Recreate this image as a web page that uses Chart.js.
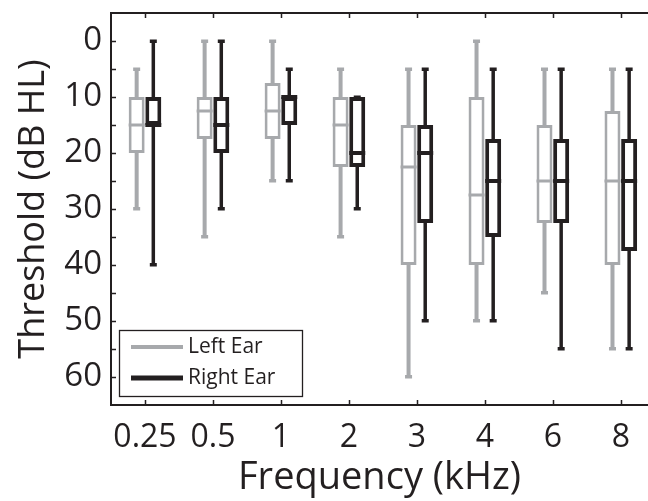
<!DOCTYPE html>
<html>
<head>
<meta charset="utf-8">
<script src="https://cdn.jsdelivr.net/npm/chart.js@4/dist/chart.umd.min.js"></script>
<style>
html,body{margin:0;padding:0;background:#fff;}
#wrap{width:648px;height:501px;position:relative;}
</style>
</head>
<body>
<div id="wrap"><canvas id="c" width="648" height="501"></canvas></div>
<script>
// ---- data ----
const categories = ['0.25', '0.5', '1', '2', '3', '4', '6', '8'];
const seriesNames = ['Left Ear', 'Right Ear'];
// Left ear box-plot statistics (dB HL)
const leftMin    = [5, 0, 0, 5, 5, 0, 5, 5];
const leftQ1     = [10, 10, 7.5, 10, 15, 10, 15, 12.5];
const leftMedian = [15, 12.5, 12.5, 15, 22.5, 27.5, 25, 25];
const leftQ3     = [20, 17.5, 17.5, 22.5, 40, 40, 32.5, 40];
const leftMax    = [30, 35, 25, 35, 60, 50, 45, 55];
// Right ear box-plot statistics (dB HL)
const rightMin    = [0, 0, 5, 10, 5, 5, 5, 5];
const rightQ1     = [10, 10, 10, 10, 15, 17.5, 17.5, 17.5];
const rightMedian = [15, 15, 10, 20, 20, 25, 25, 25];
const rightQ3     = [15, 20, 15, 22.5, 32.5, 35, 32.5, 37.5];
const rightMax    = [40, 30, 25, 30, 50, 50, 55, 55];
const yTickValues = [0, 10, 20, 30, 40, 50, 60];

const GRAY = '#a7a9ac';
const BLACK = '#231f20';
const AXIS = '#231f20';
const FONT = "'Open Sans', sans-serif";

const stats = [
  {min: leftMin, q1: leftQ1, med: leftMedian, q3: leftQ3, max: leftMax, color: GRAY, bw: 3, ww: 4},
  {min: rightMin, q1: rightQ1, med: rightMedian, q3: rightQ3, max: rightMax, color: BLACK, bw: 4, ww: 3.5}
];

const boxPlugin = {
  id: 'boxParts',
  beforeDatasetsDraw(chart) {
    const ctx = chart.ctx, y = chart.scales.y;
    stats.forEach((s, di) => {
      const meta = chart.getDatasetMeta(di);
      meta.data.forEach((bar, i) => {
        const x = bar.x;
        const yTop = y.getPixelForValue(s.min[i]);
        const yBot = y.getPixelForValue(s.max[i]);
        ctx.save();
        ctx.strokeStyle = s.color;
        ctx.lineWidth = s.ww;
        ctx.beginPath();
        ctx.moveTo(x, yTop);
        ctx.lineTo(x, yBot);
        ctx.stroke();
        // caps
        ctx.fillStyle = s.color;
        ctx.fillRect(x - 3.5, yTop - 1.5, 7, 3.5);
        ctx.fillRect(x - 3.5, yBot - 2, 7, 3.5);
        ctx.restore();
      });
    });
  },
  afterDatasetsDraw(chart) {
    const ctx = chart.ctx, y = chart.scales.y;
    stats.forEach((s, di) => {
      const meta = chart.getDatasetMeta(di);
      meta.data.forEach((bar, i) => {
        const py = y.getPixelForValue(s.med[i]);
        ctx.save();
        ctx.strokeStyle = s.color;
        ctx.lineWidth = s.bw;
        ctx.beginPath();
        ctx.moveTo(bar.x - bar.width / 2, py);
        ctx.lineTo(bar.x + bar.width / 2, py);
        ctx.stroke();
        ctx.restore();
      });
    });
  },
  afterDraw(chart) {
    const ctx = chart.ctx, a = chart.chartArea, x = chart.scales.x, y = chart.scales.y;
    ctx.save();
    // frame
    ctx.strokeStyle = AXIS;
    ctx.lineWidth = 2;
    ctx.beginPath();
    ctx.moveTo(a.right + 5, a.top);
    ctx.lineTo(a.left, a.top);
    ctx.lineTo(a.left, a.bottom);
    ctx.lineTo(a.right + 5, a.bottom);
    ctx.stroke();
    // inward ticks
    ctx.lineWidth = 1.5;
    ctx.beginPath();
    x.ticks.forEach(t => {
      const px = Math.round(x.getPixelForValue(t.value)) + 0.5;
      ctx.moveTo(px, a.bottom); ctx.lineTo(px, a.bottom - 5);
      ctx.moveTo(px, a.top); ctx.lineTo(px, a.top + 5);
    });
    y.ticks.forEach(t => {
      const py = Math.round(y.getPixelForValue(t.value)) + 0.5;
      ctx.moveTo(a.left, py); ctx.lineTo(a.left + 5, py);
    });
    ctx.stroke();
    // legend
    const lx = 119, ly = 330, lw = 183, lh = 66;
    ctx.fillStyle = '#fff';
    ctx.fillRect(lx, ly, lw, lh);
    ctx.strokeStyle = AXIS;
    ctx.lineWidth = 1.3;
    ctx.strokeRect(lx + 0.5, ly + 0.5, lw, lh);
    const rows = [{y: 347, c: GRAY, w: 4}, {y: 378, c: BLACK, w: 5}];
    rows.forEach((r, i) => {
      ctx.strokeStyle = r.c;
      ctx.lineWidth = r.w;
      ctx.beginPath();
      ctx.moveTo(131, r.y); ctx.lineTo(183, r.y);
      ctx.stroke();
      ctx.fillStyle = AXIS;
      ctx.font = "21px " + FONT;
      ctx.textBaseline = 'middle';
      ctx.textAlign = 'left';
      ctx.fillText(seriesNames[i], 188, r.y);
    });
    ctx.restore();
  }
};

const data = {
  datasets: [
    {
      label: seriesNames[0],
      data: categories.map((c, i) => ({x: i, y: [leftQ1[i], leftQ3[i]]})),
      backgroundColor: '#ffffff',
      borderColor: GRAY,
      borderWidth: 3,
      borderSkipped: false
    },
    {
      label: seriesNames[1],
      data: categories.map((c, i) => ({x: i, y: [rightQ1[i], rightQ3[i]]})),
      backgroundColor: '#ffffff',
      borderColor: BLACK,
      borderWidth: 4,
      borderSkipped: false
    }
  ]
};

new Chart(document.getElementById('c'), {
  type: 'bar',
  data,
  plugins: [boxPlugin],
  options: {
    responsive: false,
    animation: false,
    layout: {padding: {top: 13, right: 0, left: 0, bottom: 0}},
    categoryPercentage: 0.49,
    barPercentage: 0.96,
    plugins: {legend: {display: false}, tooltip: {enabled: false}},
    scales: {
      x: {
        type: 'linear',
        offset: false,
        min: -0.5,
        max: 7.4,
        afterBuildTicks(scale) { scale.ticks = categories.map((c, i) => ({value: i})); },
        afterFit(scale) { scale.height = 96; scale.paddingLeft = 0; scale.paddingRight = 0; },
        grid: {display: false, drawTicks: false, offset: false},
        border: {display: false},
        ticks: {
          autoSkip: false,
          maxRotation: 0,
          padding: 14,
          color: AXIS,
          font: {family: FONT, size: 32},
          callback: (v) => categories[v] ?? ''
        },
        title: {display: true, text: 'Frequency (kHz)', color: AXIS, font: {family: FONT, size: 38}, padding: {top: 0, bottom: 0}}
      },
      y: {
        reverse: true,
        min: -5,
        max: 65,
        afterBuildTicks(scale) {
          const t = [];
          for (let v = 0; v <= 60; v += 5) t.push({value: v});
          scale.ticks = t;
        },
        afterFit(scale) { scale.width = 111; scale.paddingTop = 0; scale.paddingBottom = 0; },
        grid: {display: false, drawTicks: false},
        border: {display: false},
        ticks: {
          autoSkip: false,
          padding: 9,
          color: AXIS,
          font: {family: FONT, size: 33},
          callback: (v) => yTickValues.includes(v) ? String(v) : ''
        },
        title: {display: true, text: 'Threshold (dB HL)', color: AXIS, font: {family: FONT, size: 36}, padding: {top: 12, bottom: 0}}
      }
    }
  }
});
</script>
</body>
</html>
